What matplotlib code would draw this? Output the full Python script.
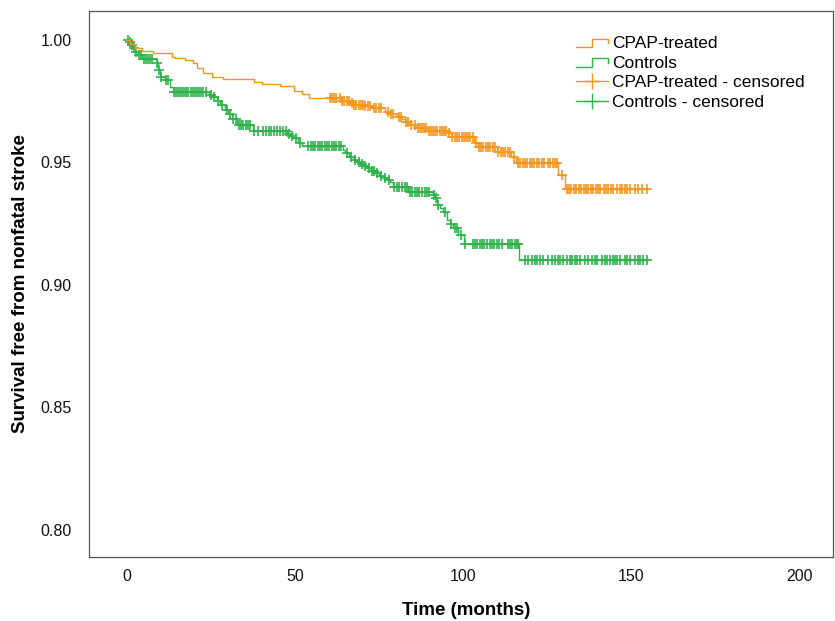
import numpy as np
import matplotlib
matplotlib.use("Agg")
import matplotlib.pyplot as plt
from matplotlib.lines import Line2D
from matplotlib.legend_handler import HandlerLine2D

plt.rcParams['font.family'] = ['Liberation Sans', 'DejaVu Sans']

# Kaplan-Meier step data (time in months, survival after each event)
cpap_event_times = [1.0, 2.5, 4.4, 7.7, 13.4, 14.4, 17.3, 19.6, 20.7, 22.6,
                    25.3, 28.6, 37.8, 40.2, 45.5, 49.7, 52.1, 54.2, 63.6, 66.4,
                    67.3, 70.8, 73.2, 76.8, 78.3, 80.4, 81.8, 82.7, 84.2, 86.3,
                    89.6, 95.5, 96.7, 103.3, 104.5, 110.1, 114.3, 115.8, 128.3, 130.4]
cpap_surv = [0.9983, 0.9966, 0.9956, 0.9946, 0.9932, 0.9927, 0.9918, 0.9905, 0.9887, 0.9867,
             0.9849, 0.9840, 0.9827, 0.9820, 0.9810, 0.9790, 0.9778, 0.9762, 0.9752, 0.9744,
             0.9735, 0.9731, 0.9721, 0.9707, 0.9697, 0.9687, 0.9676, 0.9667, 0.9653, 0.9640,
             0.9630, 0.9620, 0.9604, 0.9580, 0.9565, 0.9544, 0.9521, 0.9499, 0.9449, 0.9391]
cpap_censored = [60.4, 61.0, 61.6, 62.2, 63.4, 64.0, 64.6, 65.3, 66.0, 66.8, 67.6, 68.2, 68.9,
                 69.5, 70.2, 70.9, 71.6, 72.3, 73.5, 74.2, 74.9, 75.7, 77.6, 78.5, 79.1, 80.9,
                 81.6, 83.0, 83.6, 84.5, 85.8, 86.5, 87.1, 87.8, 88.4, 89.0, 89.8, 90.4, 91.0,
                 91.7, 92.3, 93.0, 93.6, 94.3, 94.9, 95.8, 96.8, 97.5, 98.2, 98.8, 99.5, 100.1,
                 100.8, 101.5, 102.1, 102.8, 103.8, 104.6, 105.3, 106.0, 106.7, 107.4, 108.1,
                 108.8, 109.5, 110.4, 111.1, 111.8, 112.5, 113.2, 113.9, 115.2, 116.4, 117.0,
                 117.7, 118.4, 119.1, 119.8, 120.5, 121.2, 121.9, 122.6, 123.3, 124.0, 125.2,
                 125.9, 126.6, 127.3, 128.0, 129.3, 130.8, 131.5, 132.2, 132.9, 133.6, 134.4,
                 135.1, 135.8, 136.5, 137.2, 138.0, 138.7, 139.4, 140.1, 140.8, 141.8, 142.5,
                 143.2, 143.9, 144.6, 145.9, 146.6, 147.3, 148.0, 148.7, 149.7, 151.2, 152.1,
                 153.3, 154.8]

ctrl_event_times = [0.6, 1.4, 1.9, 2.4, 3.3, 4.4, 4.8, 8.8, 9.3, 9.8,
                    11.3, 12.8, 13.7, 24.3, 25.6, 26.7, 27.7, 29.2, 30.1, 31.2,
                    32.6, 37.5, 47.5, 48.5, 49.5, 50.9, 52.0, 64.3, 64.9, 66.1,
                    67.4, 68.5, 69.3, 70.5, 71.3, 72.6, 73.8, 75.0, 76.3, 77.4,
                    78.3, 79.2, 83.7, 91.1, 91.5, 92.2, 93.2, 94.1, 95.1, 96.1,
                    97.1, 98.6, 100.1, 116.7]
ctrl_surv = [0.9992, 0.9980, 0.9967, 0.9952, 0.9939, 0.9925, 0.9921, 0.9905, 0.9878, 0.9850,
             0.9837, 0.9809, 0.9787, 0.9776, 0.9767, 0.9751, 0.9735, 0.9714, 0.9698, 0.9676,
             0.9651, 0.9627, 0.9616, 0.9608, 0.9599, 0.9580, 0.9567, 0.9551, 0.9538, 0.9524,
             0.9510, 0.9501, 0.9493, 0.9484, 0.9476, 0.9465, 0.9456, 0.9445, 0.9436, 0.9427,
             0.9419, 0.9401, 0.9381, 0.9367, 0.9354, 0.9327, 0.9314, 0.9299, 0.9265, 0.9249,
             0.9234, 0.9204, 0.9167, 0.9102]
ctrl_censored = [0.3, 0.9, 1.6, 2.1, 2.7, 3.6, 4.1, 5.0, 5.6, 6.2, 6.8, 7.4, 9.0, 9.5, 10.1,
                 11.6, 12.2, 14.0, 14.6, 15.2, 15.8, 16.4, 17.0, 17.6, 18.2, 18.9, 19.5, 20.1,
                 20.8, 21.4, 22.0, 22.7, 23.4, 25.0, 26.0, 27.2, 28.3, 29.6, 30.6, 31.6, 32.3,
                 33.2, 33.9, 34.6, 35.3, 36.0, 36.7, 37.8, 39.0, 40.4, 41.3, 42.1, 42.7, 43.6,
                 44.5, 45.5, 46.4, 47.2, 48.2, 49.0, 50.4, 51.4, 53.9, 54.6, 55.3, 56.0, 56.7,
                 57.4, 58.1, 58.8, 59.5, 60.2, 60.9, 61.6, 62.3, 63.0, 63.7, 65.3, 66.5, 67.9,
                 68.9, 69.8, 70.9, 72.0, 72.9, 73.4, 74.3, 75.6, 76.7, 77.8, 79.5, 80.3, 81.0,
                 81.8, 82.6, 83.3, 84.2, 84.9, 85.6, 86.3, 87.0, 87.7, 88.5, 89.2, 89.9, 91.3,
                 91.8, 92.6, 94.5, 96.5, 97.6, 98.2, 99.3, 100.5, 102.8, 103.5, 104.2, 104.9,
                 105.6, 106.3, 107.2, 107.9, 108.6, 109.3, 110.0, 110.7, 111.5, 113.2, 113.9,
                 114.6, 115.3, 116.0, 116.4, 118.5, 119.3, 120.5, 121.3, 122.1, 122.9, 123.7,
                 125.3, 126.5, 127.3, 128.1, 128.9, 129.7, 130.9, 131.7, 132.5, 133.3, 133.9,
                 134.8, 136.3, 137.2, 138.4, 139.1, 139.9, 141.4, 142.1, 142.9, 143.8, 144.6,
                 145.2, 145.8, 146.7, 148.2, 148.8, 149.7, 151.2, 151.9, 152.7, 153.6, 154.8]

follow_up_end = 155.0

x_ticks = [0, 50, 100, 150, 200]
y_ticks = [0.80, 0.85, 0.90, 0.95, 1.00]

CPAP_COLOR = '#F7961E'
CTRL_COLOR = '#2EB34B'


def km_steps(times, surv, t_end):
    xs = np.concatenate([[0.0], times, [t_end]])
    ys = np.concatenate([[1.0], surv, [surv[-1]]])
    return xs, ys


def level_at(times, surv, t):
    idx = np.searchsorted(np.asarray(times), np.asarray(t), side='right')
    levels = np.concatenate([[1.0], surv])
    return levels[idx]


class StepHandler(HandlerLine2D):
    """Legend key drawn as a small step."""
    def create_artists(self, legend, orig_handle, xdescent, ydescent,
                       width, height, fontsize, trans):
        x0 = -xdescent
        y0 = -ydescent
        xs = [x0, x0 + 0.5 * width, x0 + 0.5 * width, x0 + width, x0 + width]
        ys = [y0 + 0.05 * height, y0 + 0.05 * height, y0 + 0.75 * height,
              y0 + 0.75 * height, y0 + 0.35 * height]
        ln = Line2D(xs, ys, color=orig_handle.get_color(), lw=1.0)
        ln.set_transform(trans)
        return [ln]


fig = plt.figure(figsize=(8.35, 6.21), dpi=100)
ax = fig.add_axes([0.1066, 0.1031, 0.8910, 0.8792])

for times, surv, cens, color in [
        (ctrl_event_times, ctrl_surv, ctrl_censored, CTRL_COLOR),
        (cpap_event_times, cpap_surv, cpap_censored, CPAP_COLOR)]:
    xs, ys = km_steps(times, surv, follow_up_end)
    ax.step(xs, ys, where='post', color=color, lw=1.0)
    ax.plot(cens, level_at(times, surv, cens), linestyle='none', marker='+',
            markersize=7, markeredgewidth=1.2, color=color)

ax.set_xlim(-11.3, 210)
ax.set_ylim(0.789, 1.0118)
ax.set_xticks(x_ticks)
ax.set_xticklabels([str(v) for v in x_ticks])
ax.set_yticks(y_ticks)
ax.set_yticklabels([f'{v:.2f}' for v in y_ticks])
ax.tick_params(length=0, labelsize=11.5, colors='#111111')
ax.tick_params(axis='x', pad=9)
ax.tick_params(axis='y', pad=12.5)
for sp in ax.spines.values():
    sp.set_color('#555555')
    sp.set_linewidth(0.9)

ax.set_xlabel('Time (months)', fontsize=13.5, fontweight='bold', va='center')
ax.set_ylabel('Survival free from nonfatal stroke', fontsize=13.5, fontweight='bold',
              va='center')
ax.xaxis.set_label_coords(0.507, -0.0985)
ax.yaxis.set_label_coords(-0.0925, 0.5)

h_cpap = Line2D([], [], color=CPAP_COLOR, lw=1.0)
h_ctrl = Line2D([], [], color=CTRL_COLOR, lw=1.0)
h_cpap_c = Line2D([], [], color=CPAP_COLOR, lw=1.0, marker='+', markersize=12,
                  markeredgewidth=1.0)
h_ctrl_c = Line2D([], [], color=CTRL_COLOR, lw=1.0, marker='+', markersize=12,
                  markeredgewidth=1.0)
leg = ax.legend([h_cpap, h_ctrl, h_cpap_c, h_ctrl_c],
                ['CPAP-treated', 'Controls', 'CPAP-treated - censored', 'Controls - censored'],
                handler_map={h_cpap: StepHandler(), h_ctrl: StepHandler()},
                loc='upper left', bbox_to_anchor=(0.654, 0.955), frameon=False,
                fontsize=12.5, handlelength=1.85, handletextpad=0.24, labelspacing=0.27,
                borderaxespad=0.0, borderpad=0.0, numpoints=1)

fig.savefig('out.png', dpi=100)
